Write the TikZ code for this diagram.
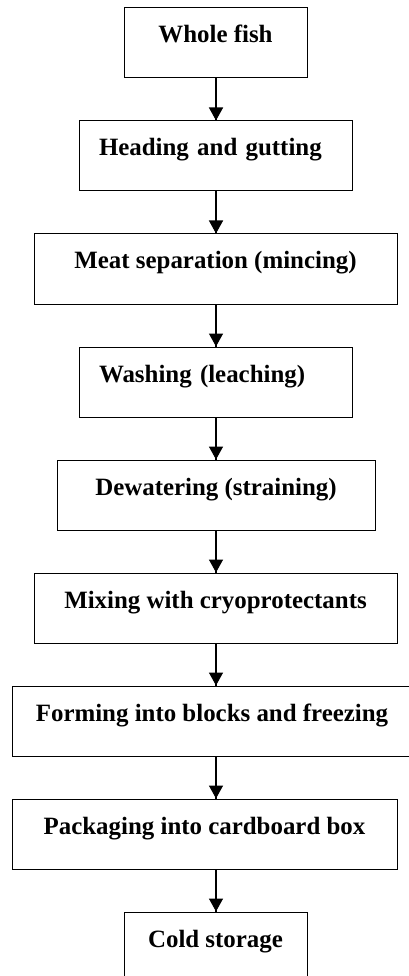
\documentclass[tikz,border=0pt]{standalone}
\usepackage{fontspec}
\setmainfont{Liberation Serif}
\usepackage{tikz}
\usetikzlibrary{arrows.meta}
\usetikzlibrary{decorations.markings}
\tikzset{->/.style = {line width = 1.5pt,
                      decoration={markings,
                                  mark=at position 1 with {\arrow{Triangle[width=14pt,length=13pt]}}},
                      postaction={decorate}}}
\tikzset{stage/.style = {draw, line width = 1pt, inner xsep = 0, inner ysep = 0,
                         text height = 35pt, text depth = 35pt,
                         font = \fontsize{24.9}{30}\selectfont\bfseries}}
\tikzset{leftstage/.style = {stage, align = left, text width = 233pt, inner xsep = 20pt}}

\begin{document}
\begin{tikzpicture}[x=1pt, y=-1pt]
          \useasboundingbox (0, 0) rectangle (409, 976);
          \coordinate (axis) at (216, 0);
          \node [stage, minimum width = 183pt] (whole) at (215.5, 43) {Whole fish};
          \node [leftstage] (heading) at (215.5, 156) {Heading and gutting};
          \node [stage, minimum width = 363pt] (meat) at (215.5, 269) {Meat separation (mincing)};
          \node [leftstage] (washing) at (215.5, 382) {Washing (leaching)};
          \node [stage, minimum width = 318pt] (dewater) at (216, 495) {Dewatering (straining)};
          \node [stage, minimum width = 363pt] (mixing) at (215.5, 608) {Mixing with cryoprotectants};
          \node [stage, minimum width = 400pt] (forming) at (212, 721) {Forming into blocks and freezing};
          \node [stage, minimum width = 385pt] (packing) at (204.5, 834) {Packaging into cardboard box};
          \node [stage, minimum width = 183pt] (cold) at (215.5, 947) {Cold storage};
          \foreach \a/\b in {whole/heading, heading/meat, meat/washing, washing/dewater,
                             dewater/mixing, mixing/forming, forming/packing, packing/cold}{
            \draw [->] (\a.south -| axis) -- (\b.north -| axis);
          }
        \end{tikzpicture}
\end{document}
